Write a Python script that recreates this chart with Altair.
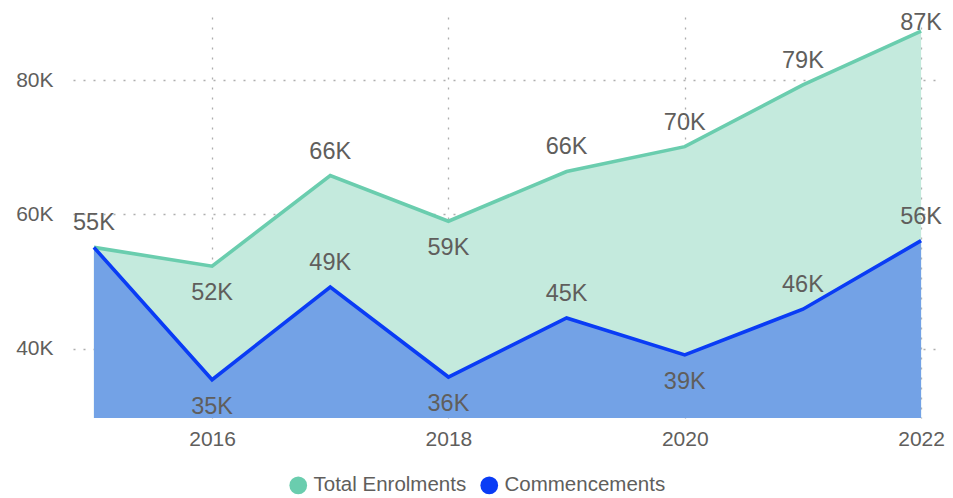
import altair as alt
import pandas as pd

years = [2015, 2016, 2017, 2018, 2019, 2020, 2021, 2022]
total_enrolments = [55100, 52300, 65800, 59000, 66400, 70100, 79300, 87300]
commencements = [55100, 35400, 49200, 35800, 44600, 39100, 45900, 56100]
series_names = ["Total Enrolments", "Commencements"]
line_colors = ["#6ACDAE", "#0A3CF5"]
area_colors = ["#C4EADD", "#73A2E6"]
y_ticks = [40000, 60000, 80000]
x_ticks = [2016, 2018, 2020, 2022]

TEXT = "#605E5C"
FONT = "Liberation Sans"


def fmt(v):
    return f"{round(v / 1000)}K"


rows = []
all_vals = [total_enrolments, commencements]
for si, (name, vals) in enumerate(zip(series_names, all_vals)):
    for i, (yr, v) in enumerate(zip(years, vals)):
        prev = vals[i - 1] if i > 0 else None
        nxt = vals[i + 1] if i < len(vals) - 1 else None
        is_min = (prev is None or v < prev) and (nxt is None or v < nxt)
        label = fmt(v)
        show = True
        if si == 1 and fmt(total_enrolments[i]) == label:
            show = False  # coincides with the total label
        rows.append(dict(series=name, year=yr, value=v, label=label,
                         below=bool(is_min), show=show))
df = pd.DataFrame(rows)

x_enc = alt.X(
    "year:Q",
    scale=alt.Scale(domain=[2014.823, 2022.143], nice=False, zero=False),
    axis=alt.Axis(values=x_ticks, format="d", title=None, labelPadding=10),
)
y_scale = alt.Scale(domain=[29700, 89400], nice=False, zero=False)
y_enc = alt.Y(
    "value:Q",
    scale=y_scale,
    axis=alt.Axis(values=y_ticks, labelExpr="datum.value / 1000 + 'K'",
                  title=None, labelPadding=20),
)

base = alt.Chart(df)
layers = []
for i, name in enumerate(series_names):
    layers.append(
        base.transform_filter(alt.datum.series == name)
        .mark_area(color=area_colors[i], opacity=1, clip=True)
        .encode(x=x_enc, y=y_enc)
    )
for i, name in enumerate(series_names):
    layers.append(
        base.transform_filter(alt.datum.series == name)
        .mark_line(color=line_colors[i], strokeWidth=3.6, clip=True)
        .encode(x=x_enc, y=y_enc)
    )

legend_pts = base.mark_point(filled=True, clip=True).encode(
    x=x_enc,
    y=y_enc,
    size=alt.value(0),
    color=alt.Color(
        "series:N",
        scale=alt.Scale(domain=series_names, range=line_colors),
        legend=alt.Legend(
            orient="none", legendX=215, legendY=458, direction="horizontal",
            title=None, symbolType="circle", symbolSize=314,
            symbolStrokeWidth=0, symbolOpacity=1,
            labelFontSize=20.5, labelColor=TEXT, labelFont=FONT, labelLimit=400,
            labelOffset=5, columnPadding=12, padding=0,
        ),
    ),
)
layers.append(legend_pts)

above = (
    base.transform_filter("datum.show && !datum.below")
    .transform_calculate(label_y="min(datum.value, 85000)")
    .mark_text(dy=-17, baseline="alphabetic", fontSize=23.5, color=TEXT, font=FONT)
    .encode(x=x_enc, y=alt.Y("label_y:Q", scale=y_scale), text="label:N")
)
below = (
    base.transform_filter("datum.show && datum.below")
    .mark_text(dy=34, baseline="alphabetic", fontSize=23.5, color=TEXT, font=FONT)
    .encode(x=x_enc, y=alt.Y("value:Q", scale=y_scale), text="label:N")
)
layers += [above, below]

chart = (
    alt.layer(*layers)
    .properties(
        width=865, height=401,
        autosize=alt.AutoSizeParams(type="none"),
        padding={"left": 65, "top": 9, "right": 7, "bottom": 78},
    )
    .configure_view(stroke=None)
    .configure_axis(
        domain=False, ticks=False, grid=True, gridColor="#9a9a9a",
        gridOpacity=0.8, gridDash=[2, 8], gridWidth=1.3,
        labelFontSize=21, labelColor=TEXT, labelFont=FONT, zindex=1,
    )
)

chart.save("out.html", embed_options={"renderer": "svg", "actions": False})
